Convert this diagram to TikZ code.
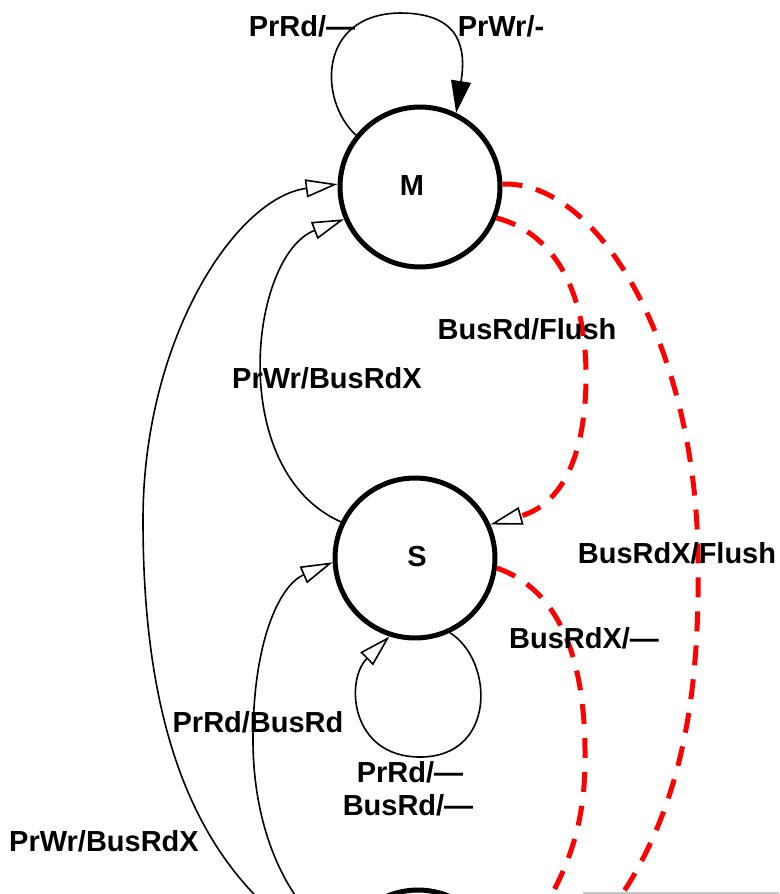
\documentclass[tikz,border=0pt]{standalone}
\usepackage{fontspec}
\setmainfont{Liberation Sans}
\usetikzlibrary{arrows.meta,calc}
\begin{document}
\begin{tikzpicture}[x=0.02cm,y=-0.02cm,
  state/.style={circle,draw,line width=0.1cm,minimum size=3.2cm,inner sep=0pt},
  trans/.style={draw,line width=0.032cm},
  snoop/.style={draw=red,line width=0.1cm,dash pattern=on 0.4cm off 0.28cm},
  lbl/.style={font=\fontsize{16.5}{19}\selectfont\bfseries,inner sep=0pt},
  opentip/.style={-{Triangle[open,fill=white,length=0.64cm,width=0.36cm]}},
  filledtip/.style={-{Triangle[length=0.64cm,width=0.4cm]}},
]
\useasboundingbox (0,0) rectangle (779,894);
\clip (0,0) rectangle (779,894);

% states
\node[state] (M) at (420,187) {};
\node[state] (S) at (415,558) {};
\node[state] (I) at (418,970) {};
\node[lbl] (Mt) at (412,186) {M};
\node[lbl] (St) at (417,557) {S};

% processor transitions
\draw[trans,filledtip] (M.141) .. controls (318,100) and (318,14) .. (400,13)
  .. controls (462,13) and (466,50) .. (M.64);
\draw[trans,opentip] (S.154) .. controls (225,470) and (250,255) .. (M.203);
\draw[trans,opentip] (I.170) .. controls (190,880) and (143,720) .. (143,520)
  .. controls (143,340) and (235,198) .. (M.178);
\draw[trans,opentip] (I.160) .. controls (280,900) and (253,820) .. (253,740)
  .. controls (253,640) and (280,585) .. (S.183);
\draw[trans,opentip] (S.295) .. controls (494,660) and (497,757) .. (420,757)
  .. controls (350,757) and (345,680) .. (S.252);

% snooped transitions
\draw[snoop,shorten >=0.62cm] (M.338) .. controls (560,235) and (587,300) .. (586,380)
  .. controls (585,460) and (560,505) .. (S.24);
\draw[trans,opentip] ($(S.24)!0.64cm!(560,505)$) -- (S.24);
\draw[snoop] (M.2) .. controls (600,180) and (697,350) .. (698,560)
  .. controls (700,700) and (680,800) .. (628,885)
  .. controls (600,930) and (540,960) .. (I.10);
\draw[snoop] (S.353) .. controls (560,590) and (586,660) .. (585,760)
  .. controls (585,820) and (570,860) .. (552,894)
  .. controls (535,925) and (510,935) .. (I.40);

% stray frame line at the bottom
\draw[black!22,line width=0.03cm] (583,893) -- (779,893);

% labels
\node[lbl] (l1) at (302,26) {PrRd/—};
\node[lbl] (l2) at (501,26) {PrWr/-};
\node[lbl] (l3) at (527,329) {BusRd/Flush};
\node[lbl] (l4) at (327,378) {PrWr/BusRdX};
\node[lbl] (l5) at (677,553) {BusRdX/Flush};
\node[lbl] (l6) at (584,638) {BusRdX/—};
\node[lbl] (l7) at (258,722) {PrRd/BusRd};
\node[lbl] (l8) at (410,772) {PrRd/—};
\node[lbl] (l9) at (408,805) {BusRd/—};
\node[lbl] (l10) at (104,841) {PrWr/BusRdX};
\end{tikzpicture}
\end{document}
